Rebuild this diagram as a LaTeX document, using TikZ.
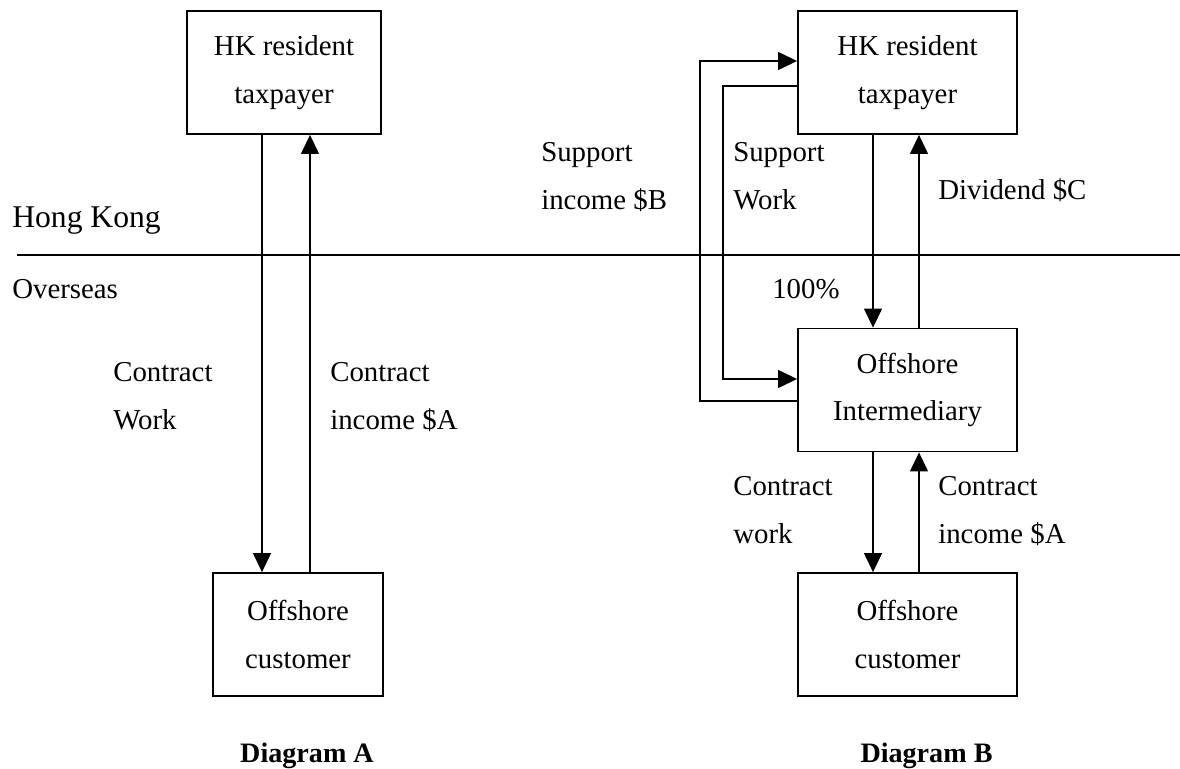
\documentclass[tikz,border=0pt]{standalone}
\usepackage{fontspec}
\setmainfont{Liberation Serif}
\usetikzlibrary{arrows.meta,positioning}

\begin{document}
\begin{tikzpicture}[
    x=0.025cm, y=-0.025cm,
    partybox/.style={rectangle, draw=black, line width=1.3pt, fill=white, align=center, minimum height=3.075cm, font=\fontsize{20.5}{34}\selectfont},
    note/.style={align=left, inner sep=0pt, anchor=base west, font=\fontsize{20.5}{34}\selectfont},
    region/.style={inner sep=0pt, anchor=base west},
    caption/.style={inner sep=0pt, anchor=base, font=\fontsize{20}{24}\selectfont\bfseries},
    flow/.style={-{Triangle[length=13.5pt, width=12.8pt]}, line width=0.9pt}
]
\useasboundingbox (0,0) rectangle (1180,769);

% === Hong Kong / overseas divide ===
\coordinate (divL) at (17,255);
\coordinate (divR) at (1180,255);
\draw[line width=0.9pt] (divL) -- (divR);
\node[region, font=\fontsize{22.5}{27}\selectfont] (hk) at (12,227) {Hong Kong};
\node[region, font=\fontsize{20.5}{25}\selectfont] (overseas) at (12,298) {Overseas};

% === DIAGRAM A ===
\node[partybox, minimum width=4.85cm] (hkA) at (284,72.5) {HK resident\\taxpayer};
\node[partybox, minimum width=4.25cm] (custA) at (298,634.5) {Offshore\\customer};

\draw[flow] (hkA.south -| 262,0) -- (custA.north -| 262,0);
\draw[flow] (custA.north -| 310,0) -- (hkA.south -| 310,0);

% two-line notes sit on the baseline of their last line
\node[note] (workA) at (113,429) {Contract\\Work};
\node[note] (incomeA) at (330,429) {Contract\\income \$A};

\node[caption] (capA) at (307,762) {Diagram A};

% === DIAGRAM B ===
\node[partybox, minimum width=5.475cm] (hkB) at (907.5,72.5) {HK resident\\taxpayer};
\node[partybox, minimum width=5.475cm] (interB) at (907.5,390) {Offshore\\Intermediary};
\node[partybox, minimum width=5.475cm] (custB) at (907.5,634.5) {Offshore\\customer};

% shareholding and dividend
\draw[flow] (hkB.south -| 873,0) -- (interB.north -| 873,0);
\draw[flow] (interB.north -| 919,0) -- (hkB.south -| 919,0);
% contract work and income
\draw[flow] (interB.south -| 873,0) -- (custB.north -| 873,0);
\draw[flow] (custB.north -| 919,0) -- (interB.south -| 919,0);
% support loops on the left
\draw[flow] (interB.west |- 0,401) -- ++(-97,0) |- (hkB.west |- 0,61);
\draw[flow] (hkB.west |- 0,86) -- ++(-74,0) |- (interB.west |- 0,379);

\node[note] (supincome) at (541,209) {Support\\income \$B};
\node[note] (supwork) at (733,209) {Support\\Work};
\node[note] (dividend) at (938,199) {Dividend \$C};
\node[note] (share) at (772,298) {100\%};
\node[note] (workB) at (733,543) {Contract\\work};
\node[note] (incomeB) at (938,543) {Contract\\income \$A};

\node[caption] (capB) at (926.5,762) {Diagram B};

\end{tikzpicture}
\end{document}
